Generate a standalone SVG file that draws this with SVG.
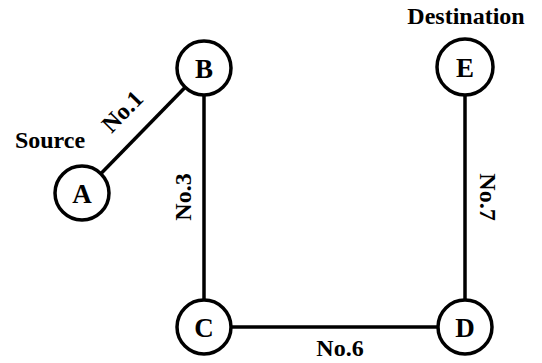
<svg xmlns="http://www.w3.org/2000/svg" width="542" height="363" viewBox="0 0 542 363">
  <defs>
    <style>
      .edge { stroke: #000; stroke-width: 3.5; fill: none; }
      .node circle { fill: #fff; stroke: #000; stroke-width: 3.5; }
    </style>
  </defs>
  <rect width="542" height="363" fill="#fff"/>
  <g id="connectors">
    <line class="edge" x1="82" y1="193" x2="204" y2="68"/>
    <line class="edge" x1="204" y1="68" x2="204" y2="327"/>
    <line class="edge" x1="204" y1="327" x2="465" y2="327"/>
    <line class="edge" x1="465" y1="67" x2="465" y2="327"/>
    <g font-family="Liberation Serif, Times New Roman, serif" font-weight="bold" font-size="24" text-anchor="middle">
      <text transform="translate(128,117) rotate(-45.7)">No.1</text>
      <text transform="translate(191,197) rotate(-90)">No.3</text>
      <text x="340" y="356">No.6</text>
      <text transform="translate(480,197) rotate(90)">No.7</text>
    </g>
  </g>
  <g font-family="Liberation Serif, Times New Roman, serif" font-weight="bold" font-size="27" text-anchor="middle">
    <g id="node-A" class="node"><circle cx="82" cy="193" r="27"/><text x="82" y="203">A</text></g>
    <g id="node-B" class="node"><circle cx="204" cy="68" r="27"/><text x="204" y="78">B</text></g>
    <g id="node-C" class="node"><circle cx="204" cy="327" r="27"/><text x="204" y="337">C</text></g>
    <g id="node-D" class="node"><circle cx="465" cy="327" r="27"/><text x="465" y="337">D</text></g>
    <g id="node-E" class="node"><circle cx="465" cy="67" r="28"/><text x="465" y="77">E</text></g>
    <text x="50" y="148" font-size="24">Source</text>
    <text x="466" y="24" font-size="24">Destination</text>
  </g>
</svg>
